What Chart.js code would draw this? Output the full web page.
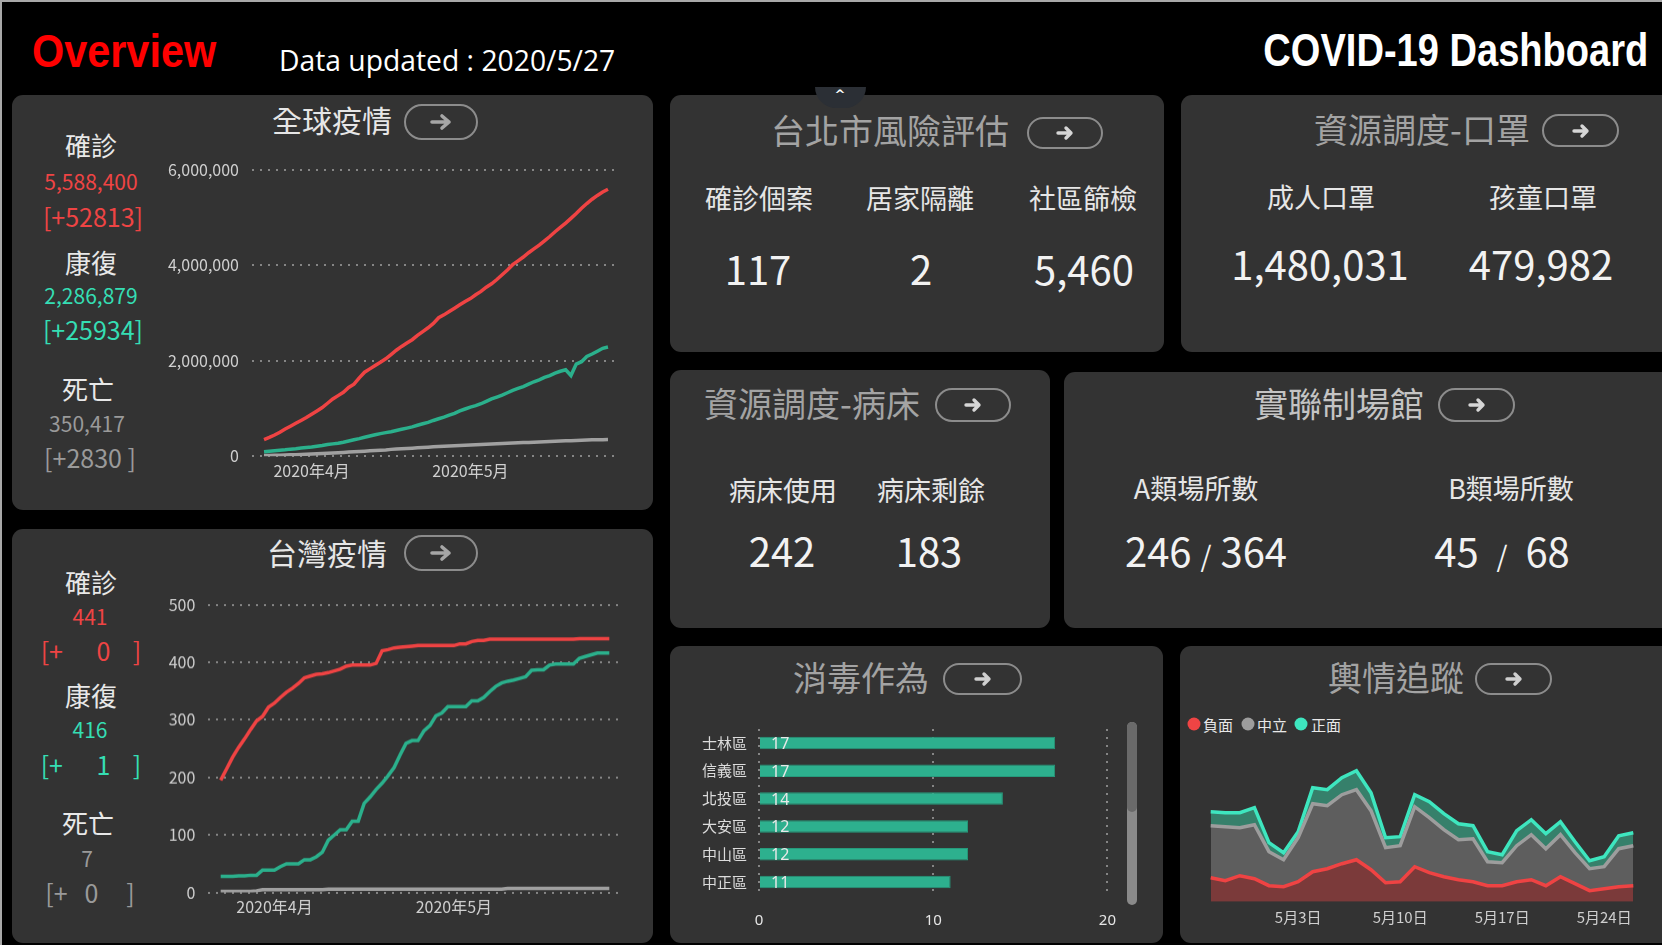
<!DOCTYPE html>
<html lang="zh-Hant">
<head>
<meta charset="utf-8">
<title>COVID-19 Dashboard</title>
<script src="https://cdn.jsdelivr.net/npm/chart.js@4.4.1/dist/chart.umd.min.js"></script>
<style>
  html, body { margin: 0; padding: 0; background: #000; width: 1662px; height: 945px; overflow: hidden; }
  body { position: relative; font-family: 'Noto Sans CJK TC', 'Noto Sans', sans-serif; }
  .frame { position: absolute; left: 0; top: 0; width: 1662px; height: 945px; box-sizing: border-box;
           border-top: 2px solid #a8a8a8; border-left: 2px solid #a8a8a8; pointer-events: none; z-index: 9; }
  .panel { position: absolute; background: #333333; border-radius: 11px; }
  .t { position: absolute; transform: translate(-50%, -50%); white-space: pre; line-height: 1; }
  .title { font-size: 34px; color: #a3a3a3; }
  .lbl { font-size: 27px; color: #e6e6e6; }
  .val { font-size: 40px; color: #f2f2f2; }
  .btn { position: absolute; box-sizing: border-box; border: 2.5px solid #8c8c8c; border-radius: 18px;
         display: flex; align-items: center; justify-content: center; }
  .btn svg { display: block; }
  .chart { position: absolute; }
  .red { color: #ef4444; }
  .teal { color: #35deb3; }
  .grey { color: #9a9a9a; }
  .legend { position: absolute; font-size: 15px; color: #e8e8e8; line-height: 1; transform: translateY(-50%); }
  .dot { position: absolute; width: 13px; height: 13px; border-radius: 50%; transform: translate(-50%, -50%); }
</style>
</head>
<body>
<div class="frame"></div>

<!-- header -->
<div style="position:absolute;left:32px;top:51px;font:bold 46px 'Liberation Sans',Arial,sans-serif;color:#ff0000;line-height:1;transform:translateY(-50%) scaleX(0.9);transform-origin:left center;">Overview</div>
<div style="position:absolute;left:279px;top:59px;font:29px 'Open Sans',sans-serif;color:#fff;line-height:1;transform:translateY(-50%) scaleX(0.975);transform-origin:left center;white-space:pre;">Data updated : 2020/5/27</div>
<div style="position:absolute;right:14px;top:49px;font:bold 47px 'Liberation Sans',Arial,sans-serif;color:#fff;line-height:1;transform:translateY(-50%) scaleX(0.81);transform-origin:right center;white-space:pre;">COVID-19 Dashboard</div>

<!-- panels -->
<div class="panel" style="left:12px;top:95px;width:641px;height:415px;"></div>
<div class="panel" style="left:12px;top:529px;width:641px;height:414px;"></div>
<div class="panel" style="left:670px;top:95px;width:494px;height:257px;"></div>
<div class="panel" style="left:1181px;top:95px;width:520px;height:257px;"></div>
<div class="panel" style="left:670px;top:370px;width:380px;height:258px;"></div>
<div class="panel" style="left:1064px;top:372px;width:640px;height:256px;"></div>
<div class="panel" style="left:670px;top:646px;width:493px;height:297px;"></div>
<div class="panel" style="left:1180px;top:646px;width:520px;height:297px;"></div>

<!-- little popup tab -->
<div style="position:absolute;left:815px;top:87px;width:51px;height:21px;background:#2b2f35;border-radius:0 0 25px 25px;z-index:3;"></div>
<div style="position:absolute;left:840px;top:88px;transform:translateX(-50%);color:#fff;font:bold 13px 'DejaVu Sans',sans-serif;line-height:1;z-index:4;">^</div>

<!-- panel 1: global -->
<div class="t" style="left:332px;top:119px;font-size:30px;color:#e6e6e6;">全球疫情</div>
<div class="btn" style="left:404px;top:104px;width:74px;height:36px;"><svg width="24" height="18" viewBox="0 0 24 18"><path d="M3 9 H20 M13 3 L20 9 L13 15" fill="none" stroke="#a6a6a6" stroke-width="3.6" stroke-linecap="round" stroke-linejoin="round"/></svg></div>
<div class="t" style="left:91px;top:145px;font-size:26px;color:#e8e8e8;">確診</div>
<div class="t red" style="left:91px;top:181px;font-size:21px;">5,588,400</div>
<div class="t red" style="left:93px;top:216px;font-size:25px;">[+52813]</div>
<div class="t" style="left:91px;top:262px;font-size:26px;color:#e8e8e8;">康復</div>
<div class="t teal" style="left:91px;top:295px;font-size:21px;">2,286,879</div>
<div class="t teal" style="left:93px;top:329px;font-size:25px;">[+25934]</div>
<div class="t" style="left:88px;top:389px;font-size:26px;color:#e8e8e8;">死亡</div>
<div class="t grey" style="left:87px;top:423px;font-size:21px;">350,417</div>
<div class="t grey" style="left:90px;top:457px;font-size:25px;">[+2830 ]</div>
<div class="chart" style="left:150px;top:146.7px;width:475px;height:343.3px;"><canvas id="globalChart"></canvas></div>

<!-- panel 2: taiwan -->
<div class="t" style="left:327px;top:552px;font-size:30px;color:#e6e6e6;">台灣疫情</div>
<div class="btn" style="left:404px;top:535px;width:74px;height:36px;"><svg width="24" height="18" viewBox="0 0 24 18"><path d="M3 9 H20 M13 3 L20 9 L13 15" fill="none" stroke="#a6a6a6" stroke-width="3.6" stroke-linecap="round" stroke-linejoin="round"/></svg></div>
<div class="t" style="left:91px;top:582px;font-size:26px;color:#e8e8e8;">確診</div>
<div class="t red" style="left:90px;top:616px;font-size:21px;">441</div>
<div class="t red" style="left:91px;top:650px;font-size:25px;">[+      0    ]</div>
<div class="t" style="left:91px;top:695px;font-size:26px;color:#e8e8e8;">康復</div>
<div class="t teal" style="left:90px;top:729px;font-size:21px;">416</div>
<div class="t teal" style="left:91px;top:764px;font-size:25px;">[+      1    ]</div>
<div class="t" style="left:88px;top:823px;font-size:26px;color:#e8e8e8;">死亡</div>
<div class="t grey" style="left:87px;top:858px;font-size:21px;">7</div>
<div class="t grey" style="left:90px;top:892px;font-size:25px;">[+   0     ]</div>
<div class="chart" style="left:120px;top:582.4px;width:505px;height:342.6px;"><canvas id="taiwanChart"></canvas></div>

<!-- panel 3: taipei risk -->
<div class="t title" style="left:890px;top:130px;">台北市風險評估</div>
<div class="btn" style="left:1027px;top:117px;width:76px;height:32px;"><svg width="20" height="16" viewBox="0 0 20 16"><path d="M3 8 H16 M11 3 L16 8 L11 13" fill="none" stroke="#d6d6d6" stroke-width="3.4" stroke-linecap="round" stroke-linejoin="round"/></svg></div>
<div class="t lbl" style="left:759px;top:197px;">確診個案</div>
<div class="t lbl" style="left:920px;top:197px;">居家隔離</div>
<div class="t lbl" style="left:1083px;top:197px;">社區篩檢</div>
<div class="t val" style="left:758px;top:268px;">117</div>
<div class="t val" style="left:921px;top:268px;">2</div>
<div class="t val" style="left:1084px;top:268px;">5,460</div>

<!-- panel 4: masks -->
<div class="t title" style="left:1422px;top:129px;">資源調度-口罩</div>
<div class="btn" style="left:1542px;top:114px;width:77px;height:33px;"><svg width="20" height="16" viewBox="0 0 20 16"><path d="M3 8 H16 M11 3 L16 8 L11 13" fill="none" stroke="#d6d6d6" stroke-width="3.4" stroke-linecap="round" stroke-linejoin="round"/></svg></div>
<div class="t lbl" style="left:1321px;top:196px;">成人口罩</div>
<div class="t lbl" style="left:1543px;top:196px;">孩童口罩</div>
<div class="t val" style="left:1320px;top:263px;">1,480,031</div>
<div class="t val" style="left:1541px;top:263px;">479,982</div>

<!-- panel 5: beds -->
<div class="t title" style="left:812px;top:403px;">資源調度-病床</div>
<div class="btn" style="left:935px;top:388px;width:76px;height:34px;"><svg width="20" height="16" viewBox="0 0 20 16"><path d="M3 8 H16 M11 3 L16 8 L11 13" fill="none" stroke="#d6d6d6" stroke-width="3.4" stroke-linecap="round" stroke-linejoin="round"/></svg></div>
<div class="t lbl" style="left:783px;top:489px;">病床使用</div>
<div class="t lbl" style="left:931px;top:489px;">病床剩餘</div>
<div class="t val" style="left:782px;top:550px;">242</div>
<div class="t val" style="left:929px;top:550px;">183</div>

<!-- panel 6: venues -->
<div class="t title" style="left:1339px;top:403px;color:#c4c4c4;">實聯制場館</div>
<div class="btn" style="left:1438px;top:388px;width:77px;height:34px;"><svg width="20" height="16" viewBox="0 0 20 16"><path d="M3 8 H16 M11 3 L16 8 L11 13" fill="none" stroke="#d6d6d6" stroke-width="3.4" stroke-linecap="round" stroke-linejoin="round"/></svg></div>
<div class="t lbl" style="left:1196px;top:487px;">A類場所數</div>
<div class="t lbl" style="left:1511px;top:487px;">B類場所數</div>
<div class="t val" style="left:1206px;top:550px;">246 <span style="font-size:28px;">/</span> 364</div>
<div class="t val" style="left:1502px;top:550px;">45  <span style="font-size:28px;">/</span>  68</div>

<!-- panel 7: disinfection -->
<div class="t title" style="left:861px;top:677px;">消毒作為</div>
<div class="btn" style="left:943px;top:663px;width:79px;height:32px;"><svg width="20" height="16" viewBox="0 0 20 16"><path d="M3 8 H16 M11 3 L16 8 L11 13" fill="none" stroke="#cfcfcf" stroke-width="3.4" stroke-linecap="round" stroke-linejoin="round"/></svg></div>
<div class="chart" style="left:670px;top:708px;width:462px;height:232px;"><canvas id="disinfectChart"></canvas></div>
<div style="position:absolute;left:1127px;top:722px;width:10px;height:183px;border-radius:5px;background:#8a8a8a;"></div>
<div style="position:absolute;left:1127px;top:722px;width:10px;height:90px;border-radius:5px;background:#6a6a6a;"></div>

<!-- panel 8: sentiment -->
<div class="t title" style="left:1396px;top:677px;">輿情追蹤</div>
<div class="btn" style="left:1475px;top:663px;width:77px;height:32px;"><svg width="20" height="16" viewBox="0 0 20 16"><path d="M3 8 H16 M11 3 L16 8 L11 13" fill="none" stroke="#cfcfcf" stroke-width="3.4" stroke-linecap="round" stroke-linejoin="round"/></svg></div>
<div class="dot" style="left:1194px;top:724px;background:#ef4444;"></div>
<div class="legend" style="left:1203px;top:724px;">負面</div>
<div class="dot" style="left:1248px;top:724px;background:#9d9d9d;"></div>
<div class="legend" style="left:1257px;top:724px;">中立</div>
<div class="dot" style="left:1301px;top:724px;background:#3ee6bf;"></div>
<div class="legend" style="left:1311px;top:724px;">正面</div>
<div class="chart" style="left:1195px;top:735px;width:460px;height:200px;"><canvas id="sentimentChart"></canvas></div>

<script>
// ---- data ----
// daily series from 2020/3/23 to 2020/5/27
const lineTickIndex = [9, 39];
const lineTickLabels = ['2020年4月', '2020年5月'];

const globalConfirmed = [
  350000, 395000, 445000, 505000, 570000, 630000, 690000, 750000, 810000, 880000,
  950000, 1020000, 1110000, 1200000, 1270000, 1340000, 1440000, 1510000, 1640000, 1760000,
  1830000, 1900000, 1970000, 2040000, 2130000, 2220000, 2300000, 2370000, 2440000, 2530000,
  2610000, 2690000, 2780000, 2900000, 2960000, 3030000, 3100000, 3170000, 3240000, 3300000,
  3380000, 3450000, 3540000, 3610000, 3700000, 3800000, 3900000, 4010000, 4090000, 4170000,
  4260000, 4340000, 4420000, 4510000, 4600000, 4700000, 4790000, 4880000, 4980000, 5080000,
  5190000, 5290000, 5380000, 5460000, 5530000, 5588400
];
const globalRecovered = [
  95000, 105000, 115000, 125000, 135000, 150000, 160000, 175000, 185000, 195000,
  210000, 225000, 245000, 260000, 275000, 295000, 320000, 345000, 370000, 400000,
  425000, 450000, 475000, 495000, 515000, 540000, 565000, 590000, 615000, 650000,
  680000, 710000, 750000, 785000, 820000, 860000, 900000, 950000, 990000, 1030000,
  1060000, 1100000, 1150000, 1200000, 1240000, 1280000, 1330000, 1380000, 1420000, 1460000,
  1510000, 1560000, 1600000, 1650000, 1690000, 1740000, 1780000, 1810000, 1690000, 1930000,
  1980000, 2090000, 2140000, 2200000, 2260000, 2286879
];
const globalDeaths = [
  17000, 19000, 22000, 24000, 27000, 31000, 34000, 37000, 42000, 47000,
  53000, 59000, 65000, 70000, 75000, 82000, 88000, 95000, 102000, 108000,
  115000, 120000, 126000, 134000, 145000, 153000, 160000, 165000, 170000, 177000,
  184000, 191000, 198000, 204000, 210000, 214000, 220000, 225000, 232000, 238000,
  243000, 247000, 251000, 256000, 262000, 268000, 275000, 280000, 284000, 287000,
  291000, 296000, 301000, 306000, 311000, 315000, 320000, 324000, 328000, 333000,
  338000, 342000, 345000, 346000, 348000, 350417
];

const taiwanConfirmed = [
  195, 215, 235, 252, 267, 283, 298, 306, 322, 329,
  339, 348, 355, 363, 373, 376, 379, 380, 382, 385,
  388, 393, 395, 395, 395, 395, 398, 420, 422, 425,
  426, 427, 428, 429, 429, 429, 429, 429, 429, 429,
  432, 432, 436, 438, 438, 440, 440, 440, 440, 440,
  440, 440, 440, 440, 440, 440, 440, 440, 440, 440,
  441, 441, 441, 441, 441, 441
];
const taiwanRecovered = [
  28, 28, 28, 29, 29, 30, 30, 39, 39, 39,
  45, 50, 50, 50, 57, 57, 62, 70, 91, 100,
  109, 109, 124, 124, 155, 166, 179, 190, 203, 217,
  239, 259, 264, 264, 281, 290, 307, 312, 323, 323,
  323, 323, 333, 333, 339, 349, 358, 364, 367, 369,
  372, 375, 386, 387, 387, 395, 397, 397, 397, 397,
  407, 410, 413, 416, 416, 416
];
const taiwanDeaths = [
  2, 2, 2, 2, 2, 2, 3, 5, 5, 5,
  5, 5, 5, 5, 5, 5, 5, 5, 6, 6,
  6, 6, 6, 6, 6, 6, 6, 6, 6, 6,
  6, 6, 6, 6, 6, 6, 6, 6, 6, 6,
  6, 6, 6, 6, 6, 6, 6, 6, 7, 7,
  7, 7, 7, 7, 7, 7, 7, 7, 7, 7,
  7, 7, 7, 7, 7, 7
];

const districts = ['士林區', '信義區', '北投區', '大安區', '中山區', '中正區'];
const disinfectCounts = [17, 17, 14, 12, 12, 11];
const disinfectTicks = [0, 10, 20];

const sentimentDates = [
  '4月27日', '4月28日', '4月29日', '4月30日', '5月1日', '5月2日', '5月3日', '5月4日', '5月5日', '5月6日',
  '5月7日', '5月8日', '5月9日', '5月10日', '5月11日', '5月12日', '5月13日', '5月14日', '5月15日', '5月16日',
  '5月17日', '5月18日', '5月19日', '5月20日', '5月21日', '5月22日', '5月23日', '5月24日', '5月25日', '5月26日'
];
const sentimentTickLabels = ['5月3日', '5月10日', '5月17日', '5月24日'];
const negative = [24, 21, 26, 23, 16, 15, 20, 30, 33, 38, 42, 32, 19, 20, 35, 29, 25, 22, 20, 16, 16, 20, 22, 16, 25, 18, 11, 13, 15, 16];
const neutral  = [52, 54, 48, 54, 34, 27, 44, 68, 63, 69, 70, 59, 35, 36, 60, 55, 47, 40, 43, 24, 23, 36, 45, 37, 42, 31, 22, 22, 38, 40];
const positive = [14, 14, 15, 17, 9, 7, 6, 16, 16, 17, 19, 18, 10, 9, 12, 16, 16, 16, 13, 10, 8, 15, 15, 15, 13, 11, 8, 10, 13, 13];

// ---- colours ----
const RED = '#ef4343';
const GREEN = '#2bb08c';
const GREY = '#a0a0a0';
const GRID = '#858585';

Chart.defaults.font.family = "'Noto Sans CJK TC', 'Noto Sans', sans-serif";
Chart.defaults.color = '#cfcfcf';
Chart.defaults.animation = false;

// Cumulative line charts (global / taiwan)
function makeLineChart(canvasId, series, yMax, yStep, xPad, box) {
    const lastIndex = series[0].values.length - 1;
    new Chart(document.getElementById(canvasId), {
        type: 'line',
        data: {
            datasets: series.map(s => ({
                data: s.values.map((v, i) => ({ x: i, y: v })),
                borderColor: s.color,
                borderWidth: 3.5,
                pointRadius: 0,
                tension: 0,
                fill: false
            }))
        },
        options: {
            responsive: true,
            maintainAspectRatio: false,
            layout: { padding: box.padding },
            plugins: { legend: { display: false }, tooltip: { enabled: false } },
            scales: {
                x: {
                    type: 'linear',
                    min: -xPad,
                    max: lastIndex + xPad,
                    afterBuildTicks: scale => { scale.ticks = lineTickIndex.map(v => ({ value: v })); },
                    afterFit: scale => { scale.height = box.xHeight; },
                    grid: { display: false, drawTicks: false },
                    border: { display: false },
                    ticks: {
                        autoSkip: false,
                        maxRotation: 0,
                        padding: 5,
                        font: { size: 16 },
                        callback: v => lineTickLabels[lineTickIndex.indexOf(v)]
                    }
                },
                y: {
                    min: 0,
                    max: yMax,
                    afterFit: scale => { scale.width = box.yWidth; },
                    grid: { color: GRID, lineWidth: 2, drawTicks: false },
                    border: { display: false, dash: [2, 6] },
                    ticks: {
                        stepSize: yStep,
                        padding: 13,
                        font: { size: 16 },
                        callback: v => v.toLocaleString('en-US')
                    }
                }
            }
        }
    });
}

makeLineChart('globalChart', [
    { values: globalConfirmed, color: RED },
    { values: globalRecovered, color: GREEN },
    { values: globalDeaths, color: GREY }
], 6000000, 2000000, 2.27, { padding: { top: 0, right: 5, left: 0, bottom: 0 }, yWidth: 102, xHeight: 34 });

makeLineChart('taiwanChart', [
    { values: taiwanConfirmed, color: RED },
    { values: taiwanRecovered, color: GREEN },
    { values: taiwanDeaths, color: GREY }
], 500, 100, 2.07, { padding: { top: 0, right: 3.3, left: 0, bottom: 0 }, yWidth: 88.3, xHeight: 33 });

// value labels drawn inside the bars
const barValueLabels = {
    id: 'barValueLabels',
    afterDatasetsDraw(chart) {
        const ctx = chart.ctx;
        const meta = chart.getDatasetMeta(0);
        ctx.save();
        ctx.font = "16px 'Noto Sans', sans-serif";
        ctx.fillStyle = '#e8e8e8';
        ctx.textBaseline = 'middle';
        ctx.textAlign = 'left';
        meta.data.forEach((bar, i) => {
            ctx.fillText(String(chart.data.datasets[0].data[i]), bar.base + 11, bar.y + 1.5);
        });
        ctx.restore();
    }
};

new Chart(document.getElementById('disinfectChart'), {
    type: 'bar',
    data: {
        labels: districts,
        datasets: [{
            data: disinfectCounts,
            backgroundColor: '#2db08e',
            borderColor: '#26997b',
            borderWidth: 1,
            barPercentage: 0.45,
            categoryPercentage: 1
        }]
    },
    options: {
        indexAxis: 'y',
        responsive: true,
        maintainAspectRatio: false,
        layout: { padding: { top: 0, right: 14.7, left: 0, bottom: 0 } },
        plugins: { legend: { display: false }, tooltip: { enabled: false } },
        scales: {
            x: {
                min: 0,
                max: 20,
                afterBuildTicks: scale => { scale.ticks = disinfectTicks.map(v => ({ value: v })); },
                afterFit: scale => { scale.height = 44; },
                grid: { color: GRID, lineWidth: 2, drawTicks: false },
                border: { display: false, dash: [2, 6] },
                ticks: { padding: 16, color: '#e6e6e6', font: { size: 15, family: "'Noto Sans', sans-serif" } }
            },
            y: {
                afterFit: scale => { scale.width = 89; },
                grid: { display: false, drawTicks: false },
                border: { display: false },
                ticks: { padding: 12, color: '#dcdcdc', font: { size: 15 } }
            }
        }
    },
    plugins: [barValueLabels]
});

// stacked sentiment areas
new Chart(document.getElementById('sentimentChart'), {
    type: 'line',
    data: {
        labels: sentimentDates,
        datasets: [
            { label: '負面', data: negative, borderColor: '#ef4343', backgroundColor: '#7b3a3a', fill: 'origin' },
            { label: '中立', data: neutral, borderColor: '#9d9d9d', backgroundColor: '#5e5e5e', fill: '-1' },
            { label: '正面', data: positive, borderColor: '#3ee6bf', backgroundColor: '#36806b', fill: '-1' }
        ].map(d => Object.assign(d, { borderWidth: 3.5, pointRadius: 0, tension: 0 }))
    },
    options: {
        responsive: true,
        maintainAspectRatio: false,
        layout: { padding: { top: 6.7, right: 21.7, left: 15.7, bottom: 0 } },
        plugins: { legend: { display: false }, tooltip: { enabled: false } },
        scales: {
            x: {
                offset: false,
                afterFit: scale => { scale.height = 33.3; },
                grid: { display: false, drawTicks: false },
                border: { display: false },
                ticks: {
                    autoSkip: false,
                    maxRotation: 0,
                    padding: 7,
                    font: { size: 15 },
                    callback: function(v) {
                        const label = this.getLabelForValue(v);
                        return sentimentTickLabels.includes(label) ? label : '';
                    }
                }
            },
            y: { display: false, stacked: true, min: 0, max: 160 }
        }
    }
});
</script>
</body>
</html>
